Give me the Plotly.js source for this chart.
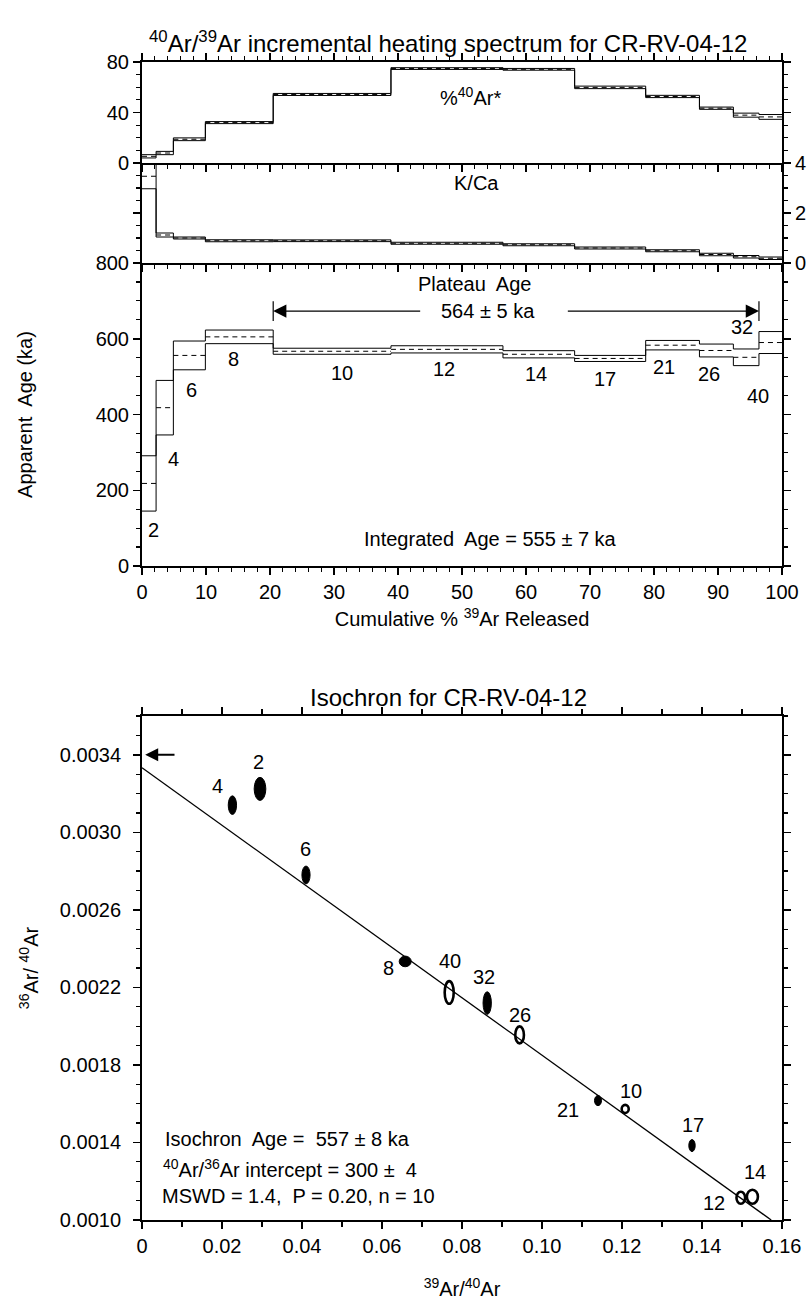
<!DOCTYPE html>
<html><head><meta charset="utf-8">
<script src="https://cdn.plot.ly/plotly-3.0.1.min.js"></script>
<style>html,body{margin:0;padding:0;background:#fff}</style>
</head><body><div id="chart" style="width:809px;height:1301px"></div>
<script>
// ---------- Step-heating data ----------
const stepLabels = ['2','4','6','8','10','12','14','17','21','26','32','40'];
const cumBounds  = [0, 2.2, 4.9, 9.9, 20.5, 38.9, 56.4, 67.6, 78.7, 87.1, 92.4, 96.4, 100];
const ageKa      = [218, 418, 556, 605, 567, 572, 559, 548, 583, 569, 551, 590];
const ageErr     = [73, 72, 38, 18, 8, 9.5, 9.5, 8, 12.5, 17, 22, 29];
const radPct     = [5.3, 7.9, 18.8, 32.0, 54.3, 74.8, 74.2, 59.9, 52.7, 43.4, 37.9, 36.5];
const radErr     = [1.3, 1.3, 1.1, 0.8, 0.8, 0.7, 0.7, 1.0, 0.9, 0.9, 1.6, 1.9];
const kCa        = [3.47, 1.12, 1.00, 0.89, 0.89, 0.79, 0.73, 0.60, 0.49, 0.34, 0.25, 0.19];
const kCaErr     = [0.50, 0.08, 0.04, 0.04, 0.035, 0.04, 0.04, 0.04, 0.04, 0.05, 0.05, 0.05];
// step label positions (cum %, age ka)
const stepLabelX = [1.8, 4.9, 7.7, 14.3, 31.2, 47.2, 61.5, 72.4, 81.6, 88.6, 93.8, 96.3];
const stepLabelY = [94, 282, 465, 547, 509, 521, 508, 494, 525, 508, 630, 449];
const plateauFrom = 20.5, plateauTo = 96.4, plateauArrowAge = 673;

// ---------- Isochron data ----------
const isoLabels = ['2','4','6','8','40','32','26','21','10','17','12','14'];
const isoX   = [0.0295, 0.0226, 0.0410, 0.0658, 0.0768, 0.0863, 0.0944, 0.1140, 0.1208, 0.1375, 0.1497, 0.1526];
const isoY   = [0.003224, 0.003140, 0.002780, 0.002334, 0.002174, 0.002119, 0.001955, 0.001616, 0.001573, 0.001384, 0.001115, 0.001120];
const isoSx  = [0.00146, 0.00104, 0.00102, 0.00150, 0.00113, 0.00104, 0.00108, 0.00088, 0.00088, 0.00080, 0.00108, 0.00138];
const isoSy  = [0.0000595, 0.000048, 0.000046, 0.0000275, 0.0000585, 0.0000585, 0.000044, 0.000026, 0.0000207, 0.000031, 0.000031, 0.000036];
const isoFilled = [true, true, true, true, false, true, false, true, false, true, false, false];
const isoLabelX = [0.0292, 0.0188, 0.0409, 0.0616, 0.0771, 0.0855, 0.0945, 0.1064, 0.1223, 0.1378, 0.1429, 0.1533];
const isoLabelY = [0.003365, 0.003241, 0.002914, 0.002300, 0.002334, 0.002253, 0.002059, 0.001568, 0.001666, 0.001491, 0.001086, 0.001246];
const isoLineX = [0, 0.1573];
const isoLineY = [0.003333, 0.0010];
const atmRatio = 0.0034;
const isoXTicks = [0, 0.02, 0.04, 0.06, 0.08, 0.10, 0.12, 0.14, 0.16];
const isoXTickText = ['0','0.02','0.04','0.06','0.08','0.10','0.12','0.14','0.16'];
const isoYTicks = [0.0010, 0.0014, 0.0018, 0.0022, 0.0026, 0.0030, 0.0034];
const isoYTickText = ['0.0010','0.0014','0.0018','0.0022','0.0026','0.0030','0.0034'];

// ---------- helpers ----------
const FONT = 'Liberation Sans, Arial, Helvetica, sans-serif';
function stair(vals, errs, sign) {
  const x = [], y = [];
  for (let i = 0; i < vals.length; i++) { x.push(cumBounds[i]); y.push(vals[i] + sign * errs[i]); }
  x.push(cumBounds[cumBounds.length - 1]); y.push(vals[vals.length - 1] + sign * errs[errs.length - 1]);
  return {x, y};
}
function centers(vals) {
  const x = [], y = [];
  for (let i = 0; i < vals.length; i++) { x.push(cumBounds[i], cumBounds[i + 1], null); y.push(vals[i], vals[i], null); }
  return {x, y};
}
const traces = [];
function addSpectrum(vals, errs, xa, ya) {
  const up = stair(vals, errs, 1), lo = stair(vals, errs, -1), c = centers(vals);
  traces.push({type:'scatter', mode:'lines', x: up.x, y: up.y, xaxis: xa, yaxis: ya, line:{shape:'hv', color:'#000', width:1}, hoverinfo:'skip', showlegend:false});
  traces.push({type:'scatter', mode:'lines', x: lo.x, y: lo.y, xaxis: xa, yaxis: ya, line:{shape:'hv', color:'#000', width:1}, hoverinfo:'skip', showlegend:false});
  traces.push({type:'scatter', mode:'lines', x: c.x, y: c.y, xaxis: xa, yaxis: ya, line:{color:'#000', width:1, dash:'5px,4px'}, hoverinfo:'skip', showlegend:false, connectgaps:false});
}
addSpectrum(ageKa, ageErr, 'x', 'y');
addSpectrum(kCa, kCaErr, 'x2', 'y2');
addSpectrum(radPct, radErr, 'x3', 'y3');

// plateau end bars
traces.push({type:'scatter', mode:'markers', x:[plateauFrom, plateauTo], y:[plateauArrowAge, plateauArrowAge], xaxis:'x', yaxis:'y',
  marker:{symbol:'line-ns', size:14, line:{width:1.2, color:'#000'}}, hoverinfo:'skip', showlegend:false});

// isochron line
traces.push({type:'scatter', mode:'lines', x: isoLineX, y: isoLineY, xaxis:'x4', yaxis:'y4', line:{color:'#000', width:1.3}, hoverinfo:'skip', showlegend:false});

// ---------- shapes: error ellipses ----------
const shapes = isoX.map((cx, i) => ({
  type:'circle', xref:'x4', yref:'y4',
  x0: cx - isoSx[i], x1: cx + isoSx[i], y0: isoY[i] - isoSy[i], y1: isoY[i] + isoSy[i],
  line:{color:'#000', width: isoFilled[i] ? 1 : 2.6},
  fillcolor: isoFilled[i] ? '#000' : 'rgba(0,0,0,0)'
}));

// ---------- annotations ----------
const ann = [];
const tf = (s) => ({family: FONT, size: s, color:'#000'});
stepLabels.forEach((t, i) => ann.push({x: stepLabelX[i], y: stepLabelY[i], xref:'x', yref:'y', text: t, showarrow:false, font: tf(20)}));
isoLabels.forEach((t, i) => ann.push({x: isoLabelX[i], y: isoLabelY[i], xref:'x4', yref:'y4', text: t, showarrow:false, font: tf(20)}));
ann.push({x: 51.3, y: 52.5, xref:'x3', yref:'y3', text:'%<sup>40</sup>Ar*', showarrow:false, font: tf(20)});
ann.push({x: 52.3, y: 3.2, xref:'x2', yref:'y2', text:'K/Ca', showarrow:false, font: tf(20)});
ann.push({x: 52, y: 745, xref:'x', yref:'y', text:'Plateau  Age', showarrow:false, font: tf(20)});
ann.push({x: 54, y: plateauArrowAge, xref:'x', yref:'y', text:'564 ± 5 ka', showarrow:false, font: tf(20)});
ann.push({x: 54.5, y: 71, xref:'x', yref:'y', text:'Integrated  Age = 555 ± 7 ka', showarrow:false, font: tf(20)});
// plateau arrows
ann.push({x: plateauFrom, y: plateauArrowAge, ax: 43.7, ay: plateauArrowAge, xref:'x', yref:'y', axref:'x', ayref:'y', text:'', showarrow:true, arrowhead:2, arrowsize:2.2, arrowwidth:1.2, arrowcolor:'#000'});
ann.push({x: plateauTo, y: plateauArrowAge, ax: 66.3, ay: plateauArrowAge, xref:'x', yref:'y', axref:'x', ayref:'y', text:'', showarrow:true, arrowhead:2, arrowsize:2.2, arrowwidth:1.2, arrowcolor:'#000'});
// isochron atmospheric arrow
ann.push({x: 0.0008, y: atmRatio, ax: 0.0085, ay: atmRatio, xref:'x4', yref:'y4', axref:'x4', ayref:'y4', text:'', showarrow:true, arrowhead:2, arrowsize:1.3, arrowwidth:2, arrowcolor:'#000'});
// isochron info
ann.push({x: 0.0052, y: 0.001417, xref:'x4', yref:'y4', xanchor:'left', text:'Isochron  Age =  557 ± 8 ka', showarrow:false, font: tf(20)});
ann.push({x: 0.0048, y: 0.001267, xref:'x4', yref:'y4', xanchor:'left', text:'<sup>40</sup>Ar/<sup>36</sup>Ar intercept = 300 ±  4', showarrow:false, font: tf(20)});
ann.push({x: 0.0045, y: 0.001124, xref:'x4', yref:'y4', xanchor:'left', text:'MSWD = 1.4,  P = 0.20, n = 10', showarrow:false, font: tf(20)});
// titles
ann.push({x: 448/809, y: 1 - 25/1301, xref:'paper', yref:'paper', text:'<sup>40</sup>Ar/<sup>39</sup>Ar incremental heating spectrum for CR-RV-04-12', showarrow:false, font: tf(24)});
ann.push({x: 448/809, y: 1 - 697/1301, xref:'paper', yref:'paper', text:'Isochron for CR-RV-04-12', showarrow:false, font: tf(24)});

// ---------- layout ----------
const W = 809, H = 1301;
const xd = [142/W, 782/W];
const yd = (top, bot) => [1 - bot/H, 1 - top/H];
const baseAx = {showline:true, linecolor:'#000', linewidth:2, ticks:'outside', ticklen:7, tickwidth:1.5, tickcolor:'#000',
  showgrid:false, zeroline:false, tickfont: tf(20), automargin:false};
const minorX = {dtick:2, ticklen:4, tickwidth:1.2, tickcolor:'#000', ticks:'outside', showgrid:false};

const layout = {
  width: W, height: H, margin:{l:0, r:0, t:0, b:0}, paper_bgcolor:'#fff', plot_bgcolor:'#fff',
  font:{family: FONT, color:'#000'}, showlegend:false,
  xaxis: Object.assign({}, baseAx, {domain: xd, anchor:'y', range:[0,100], dtick:10, tick0:0, minor: minorX,
    title:{text:'Cumulative % <sup>39</sup>Ar Released', font: tf(20), standoff: 10}}),
  yaxis: Object.assign({}, baseAx, {domain: yd(263, 566), anchor:'x', range:[0,800], dtick:200, tick0:0, mirror:'ticks',
    minor:{dtick:50, ticklen:4, tickwidth:1.2, tickcolor:'#000', ticks:'outside', showgrid:false},
    title:{text:'Apparent  Age (ka)', font: tf(20), standoff: 58}}),
  xaxis2: Object.assign({}, baseAx, {domain: xd, anchor:'y2', range:[0,100], dtick:10, tick0:0, minor: minorX, showticklabels:false}),
  yaxis2: Object.assign({}, baseAx, {domain: yd(163, 263), anchor:'x2', side:'right', range:[0,4], dtick:2, tick0:0, mirror:'ticks',
    minor:{dtick:0.5, ticklen:4, tickwidth:1.2, tickcolor:'#000', ticks:'outside', showgrid:false}}),
  xaxis3: Object.assign({}, baseAx, {domain: xd, anchor:'y3', range:[0,100], dtick:10, tick0:0, minor: minorX, showticklabels:false, mirror:'ticks'}),
  yaxis3: Object.assign({}, baseAx, {domain: yd(62, 163), anchor:'x3', range:[0,80], dtick:40, tick0:0, mirror:'ticks',
    minor:{dtick:10, ticklen:4, tickwidth:1.2, tickcolor:'#000', ticks:'outside', showgrid:false}}),
  xaxis4: Object.assign({}, baseAx, {domain: xd, anchor:'y4', range:[0,0.16], tickmode:'array', tickvals: isoXTicks, ticktext: isoXTickText, mirror:'ticks',
    minor:{tickmode:'linear', tick0:0, dtick:0.01, ticklen:5, tickwidth:1.2, tickcolor:'#000', ticks:'outside', showgrid:false},
    title:{text:'<sup>39</sup>Ar/<sup>40</sup>Ar', font: tf(20), standoff: 26}}),
  yaxis4: Object.assign({}, baseAx, {domain: yd(716, 1220), anchor:'x4', range:[0.0010,0.0036], tickmode:'array', tickvals: isoYTicks, ticktext: isoYTickText, mirror:'ticks',
    ticklabelstandoff: 8,
    minor:{tickmode:'linear', tick0:0.001, dtick:0.0001, ticklen:4, tickwidth:1.2, tickcolor:'#000', ticks:'outside', showgrid:false},
    title:{text:'<sup>36</sup>Ar/ <sup>40</sup>Ar', font: tf(20), standoff: 16}}),
  shapes: shapes,
  annotations: ann
};
Plotly.newPlot('chart', traces, layout, {staticPlot:true, displayModeBar:false});
</script></body></html>
